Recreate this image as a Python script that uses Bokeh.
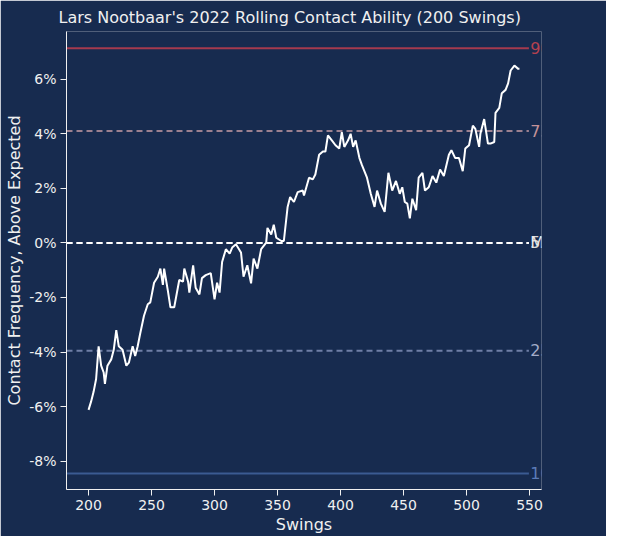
from bokeh.plotting import figure
from bokeh.models import FixedTicker, Range1d, Title, Label
from bokeh.core.properties import value
from bokeh.embed import file_html
from bokeh.resources import INLINE

swings = [200,202,204,206,208,210,212,213,215,218,220,222,224,227,230,232,235,237,239,241,244,247,249,252,255,257,259,260,263,265,268,272,275,276,279,280,283,285,288,290,293,297,300,302,304,306,309,312,314,317,321,323,326,329,331,334,337,341,342,345,347,349,353,355,358,360,363,366,370,371,375,378,380,383,386,388,390,394,396,399,401,403,406,408,410,412,415,417,421,424,427,429,432,435,438,441,444,447,449,451,453,455,457,460,462,465,467,470,473,476,479,482,486,488,491,494,497,499,502,505,507,510,511,514,517,519,522,523,526,528,531,533,535,538,541,542]
contact = [-6.12,-5.82,-5.46,-4.99,-3.79,-4.5,-4.75,-5.17,-4.5,-4.27,-3.92,-3.2,-3.79,-3.92,-4.5,-4.39,-3.79,-4.15,-3.79,-3.32,-2.67,-2.25,-2.18,-1.46,-1.24,-0.94,-1.54,-0.94,-1.77,-2.36,-2.36,-1.36,-1.42,-0.94,-1.42,-1.82,-0.82,-1.64,-1.89,-1.29,-1.18,-1.11,-2.07,-1.46,-1.82,-0.7,-0.23,-0.39,-0.17,-0.05,-0.35,-1.24,-0.82,-1.48,-0.58,-0.94,-0.23,0.01,0.55,0.31,0.67,0.19,0.07,0.07,1.32,1.68,1.5,1.86,1.92,1.74,2.39,2.33,2.51,3.23,3.35,3.35,3.94,3.7,3.58,3.46,4.06,3.52,3.76,4.0,3.52,3.76,3.11,2.85,2.39,1.8,1.32,1.92,1.44,1.14,2.57,1.92,2.27,1.8,2.04,1.5,1.44,0.9,1.62,1.2,2.39,2.57,1.92,2.04,2.45,2.21,2.69,2.45,3.23,3.4,3.11,3.11,2.63,3.46,3.58,4.3,4.18,3.52,4.0,4.54,3.64,3.64,3.7,4.77,4.95,5.49,5.61,5.85,6.32,6.5,6.38,6.38]

ref_names = ["90th %", "75th %", "52nd %", "MLB Avg", "25th %", "10th %"]
ref_values = [7.14, 4.1, 0.0, 0.0, -3.95, -8.45]
ref_colors = ["#a53a4e", "#9c8190", "#e8e8e8", "#ffffff", "#6f7fa6", "#3b5b92"]
ref_text_colors = ["#b5414f", "#c39299", "#d8d8d8", "#e8e8e8", "#a3acc9", "#5b7bb8"]
ref_dash = ["solid", "6 4", "6 4", "6 4", "6 4", "solid"]
yticks = [-8, -6, -4, -2, 0, 2, 4, 6]
xticks = [200, 250, 300, 350, 400, 450, 500, 550]

BG = "#172b4f"
FG = "#f0f0f0"
F = "DejaVu Sans"

p = figure(width=606, height=536, output_backend="svg", toolbar_location=None,
           x_range=Range1d(182.5, 559.5), y_range=Range1d(-9.04, 7.75),
           min_border_left=66, min_border_right=65, min_border_bottom=44, min_border_top=10)
p.background_fill_color = BG
p.border_fill_color = BG
p.outline_line_color = None
p.grid.visible = False
p.title = Title(text="Lars Nootbaar's 2022 Rolling Contact Ability (200 Swings)",
                text_color=FG, text_font=F, text_font_size="16px", text_font_style="normal",
                offset=-8)

for ax in (p.xaxis[0], p.yaxis[0]):
    ax.axis_line_color = FG
    ax.major_tick_line_color = FG
    ax.minor_tick_line_color = None
    ax.major_tick_out = 6
    ax.major_tick_in = 0
    ax.major_label_text_color = FG
    ax.major_label_text_font = F
    ax.major_label_text_font_size = "14px"
    ax.major_label_standoff = 4
    ax.axis_label_text_color = FG
    ax.axis_label_text_font = F
    ax.axis_label_text_font_size = "16px"
    ax.axis_label_text_font_style = "normal"
    ax.axis_label_standoff = 2
p.xaxis.ticker = FixedTicker(ticks=xticks)
p.yaxis.ticker = FixedTicker(ticks=yticks)
p.yaxis.major_label_overrides = {t: f"{t}%" for t in yticks}
p.xaxis.axis_label = "Swings"
p.yaxis.axis_label = "Contact Frequency, Above Expected"

x0, x1 = 182.5, 549.5
for n, v, c, d, tc in zip(ref_names, ref_values, ref_colors, ref_dash, ref_text_colors):
    p.line([x0, x1], [v, v], line_color=c, line_width=2, line_dash=d)
    p.add_layout(Label(x=550.5, y=v, text=n, text_color=tc, text_font=F,
                       text_font_size="16px", text_baseline="middle", text_align="left"))

p.line(swings, contact, line_color="#ffffff", line_width=2)

open("out.html", "w").write(file_html(p, INLINE))
